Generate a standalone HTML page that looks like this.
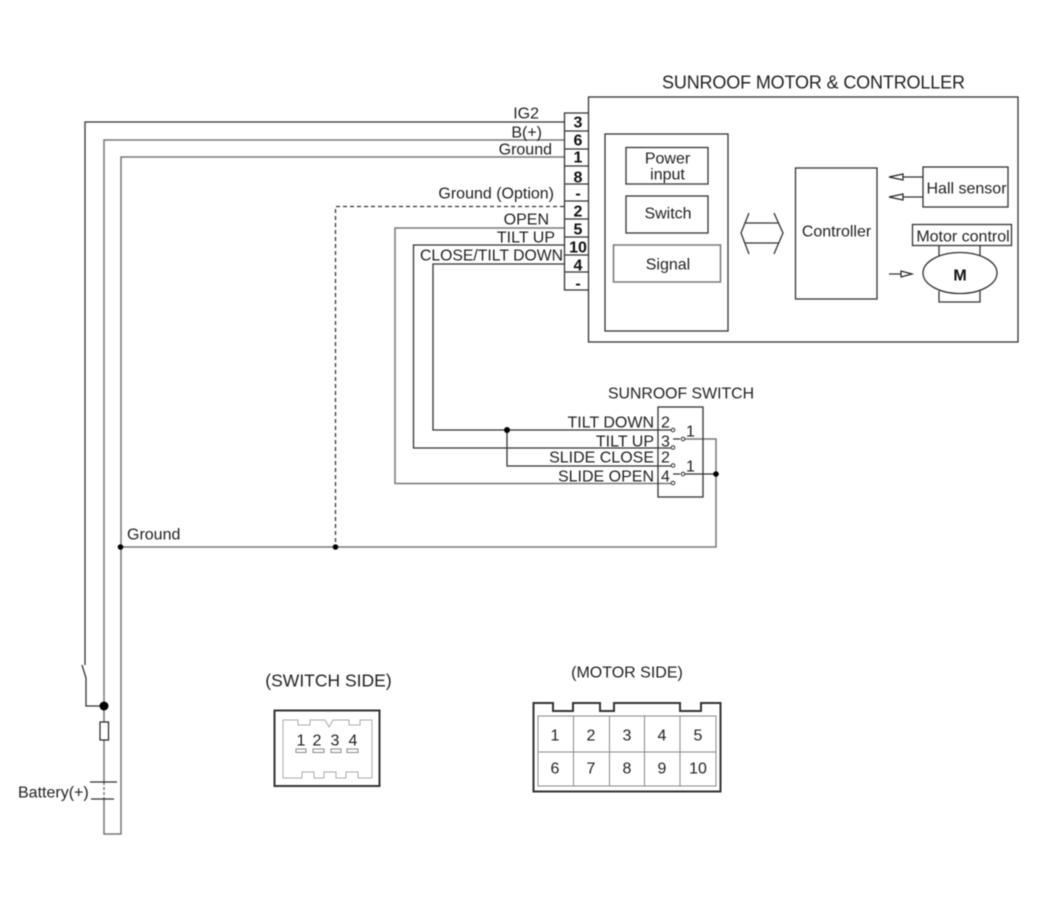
<!DOCTYPE html>
<html><head><meta charset="utf-8"><style>
html,body{margin:0;padding:0;background:#fff;width:1050px;height:903px;overflow:hidden}
svg{display:block;filter:blur(0.4px)}
text{font-family:"Liberation Sans",sans-serif;font-size:16px;fill:#222;transform:translateY(0.6px)}
.b{font-weight:bold;fill:#111;font-size:16px}
.l{fill:none;stroke:#333;stroke-width:1.3}
.g{fill:none;stroke:#777;stroke-width:1.5}
.c{fill:#fff;stroke:#222;stroke-width:1.2}
</style></head><body>
<svg width="1050" height="903" viewBox="0 0 1050 903" xmlns="http://www.w3.org/2000/svg">
<!-- wires -->
<path class="l" d="M564 122H85V665M82 665L86 678V706H104"/>
<path class="g" d="M564 140H104V782M104 799V834H121V157H564"/>
<path class="g" d="M104 782V799" stroke-dasharray="3 2"/>
<path class="l" d="M564 206.500H335.500V547" stroke-dasharray="4 3"/>
<path class="g" d="M564 228H395V483.500H673"/>
<path class="l" d="M564 245H413.500V448H673"/>
<path class="l" d="M564 264H433V430H673"/>
<path class="l" d="M507 430V466H673"/>
<path class="g" d="M683 439H716V547H120"/>
<path class="l" d="M683 474H716"/>
<path class="l" d="M673 439H680M673 474H680"/>
<circle cx="507" cy="430" r="3"/><circle cx="716" cy="474" r="2.800"/>
<circle cx="120.500" cy="547" r="2.800"/><circle cx="335.500" cy="547" r="2.800"/>
<circle cx="104" cy="706" r="4.500"/>
<rect class="c" x="100" y="722" width="8.500" height="18"/>
<path class="l" d="M90 782H117M91 799H114"/>
<!-- connector -->
<path class="l" d="M588 113H564.500V290H588M564.500 131H588M564.500 149H588M564.500 166H588M564.500 184H588M564.500 201H588M564.500 219H588M564.500 237H588M564.500 255H588M564.500 272H588"/>
<g text-anchor="middle">
<text class="b" x="578" y="127">3</text><text class="b" x="578" y="145">6</text><text class="b" x="578" y="162">1</text><text class="b" x="578" y="182">8</text><text class="b" x="578" y="198">-</text><text class="b" x="578" y="216">2</text><text class="b" x="578" y="234">5</text><text class="b" x="578" y="252">10</text><text class="b" x="578" y="270">4</text><text class="b" x="578" y="288">-</text>
</g>
<!-- main box -->
<rect class="l" x="588.500" y="97" width="429.500" height="245"/>
<rect class="l" x="605" y="134" width="123" height="197"/>
<rect class="l" x="626" y="147.500" width="82" height="36.500"/>
<rect class="l" x="626" y="196" width="82" height="37"/>
<rect class="g" x="613.500" y="245" width="107" height="37"/>
<rect class="l" x="795.500" y="168" width="81.500" height="131"/>
<rect class="l" x="923" y="167" width="85" height="40"/>
<rect class="l" x="912.500" y="224.500" width="99" height="21"/>
<path class="l" d="M939 245V256M980 245V256M939 291V302H980V291"/>
<ellipse class="l" cx="960" cy="273" rx="37" ry="20.500"/>
<path class="l" d="M749 213L741 233L749 254M774 213L783 233L774 254M745 223H778.500M745 243H778.500"/>
<path class="l" d="M923 177H903M923 197H903M889 274H903"/>
<path class="c" d="M889 177L903 174V180ZM889 197L903 194V200ZM912 274L901 271V277Z"/>
<!-- labels top -->
<text x="662" y="88" style="font-size:18px" textLength="303">SUNROOF MOTOR &amp; CONTROLLER</text>
<text x="539" y="118" text-anchor="end">IG2</text>
<text x="542" y="137" text-anchor="end">B(+)</text>
<text x="552" y="154" text-anchor="end">Ground</text>
<text x="554" y="198" text-anchor="end">Ground (Option)</text>
<text x="549" y="224" text-anchor="end">OPEN</text>
<text x="555" y="242" text-anchor="end">TILT UP</text>
<text x="420" y="260" textLength="143" lengthAdjust="spacingAndGlyphs">CLOSE/TILT DOWN</text>
<text x="667.500" y="163" text-anchor="middle">Power</text>
<text x="667.500" y="179" text-anchor="middle">input</text>
<text x="668" y="218" text-anchor="middle">Switch</text>
<text x="668" y="269" text-anchor="middle">Signal</text>
<text x="836.500" y="236" text-anchor="middle">Controller</text>
<text x="966.500" y="193" text-anchor="middle">Hall sensor</text>
<text x="963" y="241" text-anchor="middle">Motor control</text>
<text class="b" x="960" y="280" text-anchor="middle">M</text>
<!-- switch -->
<text x="608" y="398" textLength="146" lengthAdjust="spacingAndGlyphs">SUNROOF SWITCH</text>
<rect class="l" x="658" y="407" width="45" height="90"/>
<text x="654" y="427" text-anchor="end">TILT DOWN</text>
<text x="654" y="446" text-anchor="end">TILT UP</text>
<text x="654" y="462" text-anchor="end">SLIDE CLOSE</text>
<text x="654" y="481" text-anchor="end">SLIDE OPEN</text>
<text x="661" y="427">2</text><text x="661" y="446">3</text><text x="661" y="462">2</text><text x="661" y="481">4</text>
<text x="686" y="436">1</text><text x="686" y="471">1</text>
<g fill="#fff" stroke="#333" stroke-width="1">
<circle cx="673" cy="430" r="1.800"/><circle cx="673" cy="447.500" r="1.800"/><circle cx="673" cy="465.500" r="1.800"/><circle cx="673" cy="483" r="1.800"/><circle cx="683" cy="439" r="1.800"/><circle cx="683" cy="474" r="1.800"/>
</g>
<text x="127" y="539">Ground</text>
<text x="18" y="797">Battery(+)</text>
<!-- switch side -->
<text x="328.500" y="686" text-anchor="middle" style="font-size:17.500px">(SWITCH SIDE)</text>
<rect x="274.500" y="710.500" width="105" height="75.500" fill="none" stroke="#333" stroke-width="2"/>
<path d="M283 720H298V725H310V720H325L329 727L333 720H349V725H360V720H372V778H358V772H346V778H336V772H324V778H314V772H302V778H283Z" fill="none" stroke="#aaa" stroke-width="1"/>
<text x="301" y="745" text-anchor="middle">1</text><text x="317" y="745" text-anchor="middle">2</text><text x="335" y="745" text-anchor="middle">3</text><text x="353" y="745" text-anchor="middle">4</text>
<path d="M296 749H306V752.500H296ZM313 749H324V752.500H313ZM331 749H341V752.500H331ZM347 749H358V752.500H347Z" fill="none" stroke="#888" stroke-width="1"/>
<!-- motor side -->
<text x="627" y="677" text-anchor="middle">(MOTOR SIDE)</text>
<path d="M533.500 703H553V711H573V703H600V711H614V703H680V711H701V703H720.500V791.500H533.500Z" fill="none" stroke="#333" stroke-width="2"/>
<path d="M538 716H716V786H538ZM573.500 716V786M609.500 716V786M644.500 716V786M680 716V786M538 752H716" fill="none" stroke="#888" stroke-width="1"/>
<g text-anchor="middle">
<text x="555" y="740">1</text><text x="591" y="740">2</text><text x="627" y="740">3</text><text x="662" y="740">4</text><text x="698" y="740">5</text>
<text x="555" y="773">6</text><text x="591" y="773">7</text><text x="627" y="773">8</text><text x="662" y="773">9</text><text x="698" y="773">10</text>
</g>
</svg>
</body></html>
